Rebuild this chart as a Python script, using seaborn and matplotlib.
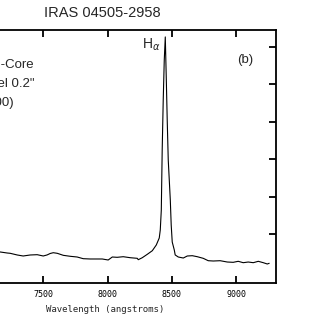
"""
Spectrum plot - IRAS 04505-2958, nucleus core (panel b)
"""

import numpy as np
import pandas as pd
import matplotlib
matplotlib.use("Agg")
import matplotlib.pyplot as plt
import seaborn as sns

# wavelength (angstroms) and flux (arbitrary units)
wavelength = [7000, 7080, 7166, 7220, 7243, 7270, 7298, 7344, 7370, 7399,
              7453, 7500, 7530, 7554, 7578, 7609, 7656, 7710, 7764, 7811,
              7865, 7920, 7959, 8005, 8037, 8075, 8122, 8177, 8231, 8239,
              8270, 8309, 8348, 8379, 8402, 8410, 8418, 8425, 8433, 8441,
              8449, 8457, 8464, 8472, 8488, 8495, 8503, 8519, 8526, 8550,
              8589, 8620, 8659, 8698, 8744, 8783, 8822, 8876, 8931, 8977,
              9016, 9055, 9094, 9133, 9172, 9211, 9242, 9257]
flux = [0.55, 0.53, 0.519, 0.492, 0.484, 0.462, 0.439, 0.412, 0.425, 0.439,
        0.447, 0.412, 0.440, 0.479, 0.500, 0.484, 0.430, 0.404, 0.385, 0.340,
        0.332, 0.332, 0.332, 0.305, 0.385, 0.377, 0.393, 0.366, 0.350, 0.313,
        0.366, 0.457, 0.553, 0.706, 0.893, 1.107, 1.64, 3.25, 4.58, 5.65,
        6.27, 5.12, 4.05, 2.98, 1.91, 1.24, 0.786, 0.572, 0.44, 0.385,
        0.358, 0.412, 0.420, 0.393, 0.350, 0.286, 0.278, 0.286, 0.251, 0.243,
        0.270, 0.233, 0.251, 0.233, 0.270, 0.233, 0.198, 0.217]

x_ticks = [7000, 7500, 8000, 8500, 9000]
y_ticks = [1, 2, 3, 4, 5, 6]

titlu = "IRAS 04505-2958"
eticheta_x = "Wavelength (angstroms)"


def plot_spectru():
    df = pd.DataFrame({"wl": wavelength, "flux": flux})

    sns.set_style("ticks")
    plt.rcParams["font.family"] = ["Liberation Sans", "DejaVu Sans"]
    plt.rcParams["mathtext.fontset"] = "dejavusans"

    fig = plt.figure(figsize=(3.27, 3.32), dpi=100)
    # axes deliberately extend past the left edge (cropped panel)
    ax = fig.add_axes([-0.1431, 0.1476, 0.9872, 0.762])

    sns.lineplot(data=df, x="wl", y="flux", ax=ax, color="black",
                 linewidth=0.8, estimator=None, sort=False)

    ax.set_xlim(6800, 9310)
    ax.set_ylim(-0.31, 6.455)
    ax.set_xticks(x_ticks)
    ax.set_yticks(y_ticks)

    for s in ax.spines.values():
        s.set_visible(True)
        s.set_linewidth(1.3)
        s.set_color("black")

    ax.tick_params(direction="in", length=5, width=1.3, top=True, right=True,
                   labelsize=6, pad=5, colors="black")
    for lbl in ax.get_xticklabels() + ax.get_yticklabels():
        lbl.set_family("DejaVu Sans Mono")

    ax.set_ylabel("")
    ax.set_xlabel(eticheta_x, family="DejaVu Sans Mono", fontsize=6.5)
    ax.xaxis.set_label_coords(0.470, -0.085)

    fig.text(0.312, 0.961, titlu, ha="center", va="center", fontsize=10.5)

    ax.text(8412, 6.05, r"H$_{\alpha}$", ha="right", va="center", fontsize=10)
    ax.text(9009, 5.65, "(b)", ha="left", va="center", fontsize=9.5)
    ax.text(7422, 5.52, "Nucleus -Core", ha="right", va="center", fontsize=9.5)
    ax.text(7430, 5.01, 'Pixel 0.2"', ha="right", va="center", fontsize=9.5)
    ax.text(7274, 4.50, "(PA=100)", ha="right", va="center", fontsize=9.5)

    fig.savefig("out.png", dpi=100)
    plt.close(fig)


if __name__ == "__main__":
    plot_spectru()
